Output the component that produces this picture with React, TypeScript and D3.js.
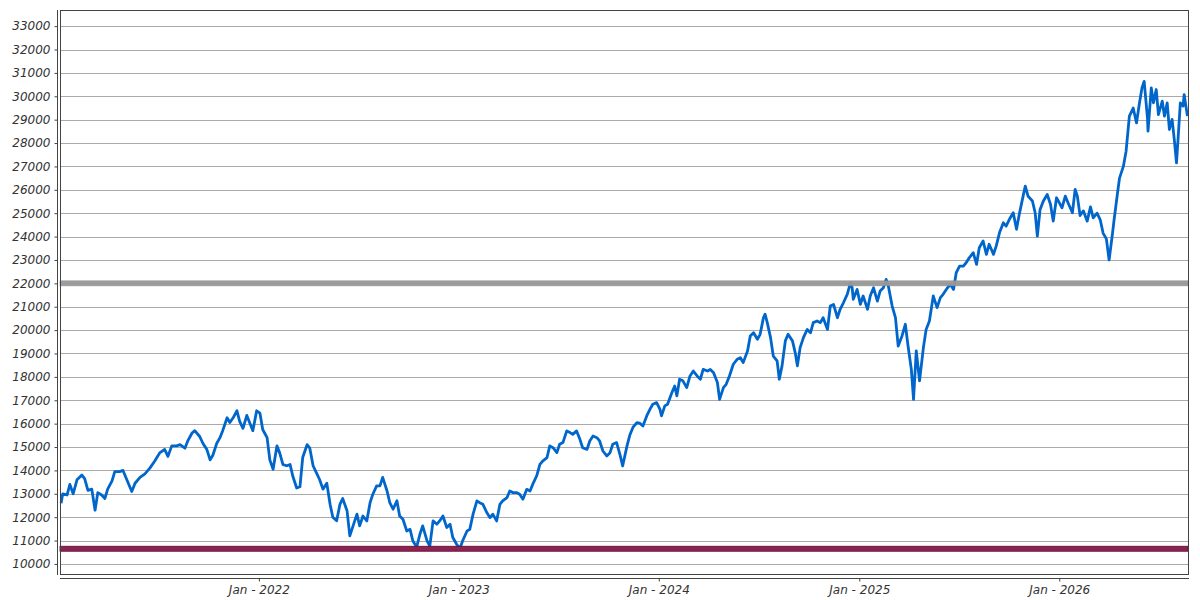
import React, { useEffect, useRef } from 'react'
import * as d3 from 'd3'

const WIDTH = 1200
const HEIGHT = 600
const plot = { left: 60, right: 1188, top: 10, bottom: 574 }

// closing values, one named array per year
const closes2021: [string, number][] = [
  ['2021-01-05', 12600], ['2021-01-08', 13000], ['2021-01-16', 12950], ['2021-01-21', 13400],
  ['2021-01-27', 13000], ['2021-02-03', 13600], ['2021-02-12', 13800], ['2021-02-17', 13650],
  ['2021-02-23', 13150], ['2021-03-02', 13200], ['2021-03-08', 12300], ['2021-03-13', 13050],
  ['2021-03-20', 12950], ['2021-03-26', 12800], ['2021-03-31', 13200], ['2021-04-08', 13550],
  ['2021-04-13', 13950], ['2021-04-22', 13950], ['2021-04-28', 14000], ['2021-05-05', 13600],
  ['2021-05-14', 13100], ['2021-05-20', 13450], ['2021-05-29', 13700], ['2021-06-07', 13850],
  ['2021-06-16', 14100], ['2021-06-25', 14400], ['2021-07-04', 14750], ['2021-07-13', 14900],
  ['2021-07-19', 14600], ['2021-07-26', 15050], ['2021-08-04', 15050], ['2021-08-10', 15100],
  ['2021-08-19', 14950], ['2021-08-24', 15250], ['2021-09-01', 15600], ['2021-09-06', 15700],
  ['2021-09-15', 15450], ['2021-09-21', 15150], ['2021-09-28', 14900], ['2021-10-04', 14450],
  ['2021-10-09', 14650], ['2021-10-16', 15150], ['2021-10-22', 15400], ['2021-10-27', 15700],
  ['2021-11-04', 16250], ['2021-11-09', 16050], ['2021-11-15', 16250], ['2021-11-22', 16550],
  ['2021-11-27', 16100], ['2021-12-03', 15800], ['2021-12-10', 16350], ['2021-12-16', 16000],
  ['2021-12-21', 15700], ['2021-12-28', 16550],
]

const closes2022: [string, number][] = [
  ['2022-01-03', 16450], ['2022-01-08', 15750], ['2022-01-16', 15400], ['2022-01-21', 14450],
  ['2022-01-27', 14050], ['2022-02-03', 15050], ['2022-02-08', 14750], ['2022-02-14', 14250],
  ['2022-02-21', 14200], ['2022-02-27', 14250], ['2022-03-04', 13750], ['2022-03-11', 13250],
  ['2022-03-17', 13300], ['2022-03-22', 14550], ['2022-03-30', 15100], ['2022-04-04', 14950],
  ['2022-04-10', 14200], ['2022-04-17', 13850], ['2022-04-22', 13600], ['2022-04-28', 13200],
  ['2022-05-05', 13450], ['2022-05-11', 12550], ['2022-05-16', 12000], ['2022-05-23', 11850],
  ['2022-05-29', 12550], ['2022-06-03', 12800], ['2022-06-11', 12270], ['2022-06-16', 11200],
  ['2022-06-22', 11630], ['2022-06-29', 12130], ['2022-07-04', 11630], ['2022-07-10', 12050],
  ['2022-07-17', 11840], ['2022-07-23', 12620], ['2022-07-28', 12980], ['2022-08-04', 13340],
  ['2022-08-10', 13340], ['2022-08-15', 13700], ['2022-08-23', 13120], ['2022-08-28', 12620],
  ['2022-09-03', 12340], ['2022-09-10', 12700], ['2022-09-15', 12050], ['2022-09-21', 11910],
  ['2022-09-28', 11410], ['2022-10-04', 11480], ['2022-10-09', 10990], ['2022-10-16', 10720],
  ['2022-10-22', 11270], ['2022-10-27', 11630], ['2022-11-04', 10990], ['2022-11-09', 10760],
  ['2022-11-15', 11840], ['2022-11-22', 11700], ['2022-11-27', 11840], ['2022-12-03', 12050],
  ['2022-12-10', 11560], ['2022-12-16', 11700], ['2022-12-21', 11130], ['2022-12-28', 10840],
]

const closes2023: [string, number][] = [
  ['2023-01-03', 10660], ['2023-01-08', 10990], ['2023-01-16', 11410], ['2023-01-21', 11480],
  ['2023-01-27', 12130], ['2023-02-03', 12700], ['2023-02-08', 12620], ['2023-02-14', 12550],
  ['2023-02-21', 12200], ['2023-02-27', 11980], ['2023-03-04', 12130], ['2023-03-11', 11840],
  ['2023-03-17', 12550], ['2023-03-22', 12700], ['2023-03-30', 12840], ['2023-04-04', 13120],
  ['2023-04-10', 13050], ['2023-04-17', 13050], ['2023-04-22', 12980], ['2023-04-28', 12770],
  ['2023-05-05', 13190], ['2023-05-11', 13120], ['2023-05-16', 13410], ['2023-05-23', 13760],
  ['2023-05-29', 14260], ['2023-06-03', 14400], ['2023-06-11', 14550], ['2023-06-16', 15050],
  ['2023-06-22', 14970], ['2023-06-29', 14760], ['2023-07-04', 15120], ['2023-07-10', 15190],
  ['2023-07-17', 15690], ['2023-07-23', 15620], ['2023-07-28', 15540], ['2023-08-04', 15690],
  ['2023-08-10', 15330], ['2023-08-15', 14970], ['2023-08-23', 14900], ['2023-08-28', 15260],
  ['2023-09-03', 15470], ['2023-09-10', 15400], ['2023-09-15', 15260], ['2023-09-21', 14830],
  ['2023-09-28', 14620], ['2023-10-04', 14760], ['2023-10-09', 15120], ['2023-10-16', 15190],
  ['2023-10-22', 14690], ['2023-10-27', 14190], ['2023-11-04', 15050], ['2023-11-09', 15500],
  ['2023-11-15', 15850], ['2023-11-22', 16040], ['2023-11-27', 16020], ['2023-12-03', 15900],
  ['2023-12-10', 16330], ['2023-12-16', 16620], ['2023-12-21', 16830], ['2023-12-28', 16900],
]

const closes2024: [string, number][] = [
  ['2024-01-03', 16620], ['2024-01-06', 16330], ['2024-01-12', 16760], ['2024-01-17', 16830],
  ['2024-01-25', 17330], ['2024-01-30', 17610], ['2024-02-03', 17190], ['2024-02-08', 17900],
  ['2024-02-14', 17830], ['2024-02-21', 17540], ['2024-02-27', 18040], ['2024-03-04', 18250],
  ['2024-03-11', 18040], ['2024-03-17', 17900], ['2024-03-22', 18320], ['2024-03-30', 18250],
  ['2024-04-04', 18320], ['2024-04-10', 18180], ['2024-04-17', 17760], ['2024-04-21', 17040],
  ['2024-04-28', 17540], ['2024-05-03', 17680], ['2024-05-09', 18040], ['2024-05-16', 18540],
  ['2024-05-23', 18750], ['2024-05-29', 18820], ['2024-06-03', 18610], ['2024-06-11', 19110],
  ['2024-06-16', 19750], ['2024-06-22', 19890], ['2024-06-29', 19610], ['2024-07-04', 19820],
  ['2024-07-10', 20530], ['2024-07-13', 20680], ['2024-07-17', 20320], ['2024-07-23', 19680],
  ['2024-07-28', 18890], ['2024-08-04', 18680], ['2024-08-08', 17900], ['2024-08-13', 18470],
  ['2024-08-19', 19540], ['2024-08-24', 19820], ['2024-09-01', 19540], ['2024-09-06', 19040],
  ['2024-09-10', 18470], ['2024-09-15', 19250], ['2024-09-21', 19680], ['2024-09-28', 20030],
  ['2024-10-04', 19890], ['2024-10-09', 20320], ['2024-10-16', 20390], ['2024-10-22', 20320],
  ['2024-10-27', 20530], ['2024-11-04', 20030], ['2024-11-09', 21030], ['2024-11-15', 21100],
  ['2024-11-22', 20530], ['2024-11-27', 20890], ['2024-12-03', 21170], ['2024-12-10', 21530],
  ['2024-12-16', 22030], ['2024-12-19', 21810], ['2024-12-21', 21320], ['2024-12-28', 21740],
]

const closes2025: [string, number][] = [
  ['2025-01-03', 21100], ['2025-01-08', 21460], ['2025-01-16', 20890], ['2025-01-21', 21460],
  ['2025-01-27', 21810], ['2025-02-03', 21240], ['2025-02-08', 21670], ['2025-02-14', 21810],
  ['2025-02-19', 22170], ['2025-02-23', 21890], ['2025-03-02', 21030], ['2025-03-08', 20530],
  ['2025-03-13', 19320], ['2025-03-20', 19750], ['2025-03-26', 20250], ['2025-03-31', 19320],
  ['2025-04-06', 18320], ['2025-04-10', 17040], ['2025-04-15', 19110], ['2025-04-21', 17830],
  ['2025-04-28', 19250], ['2025-05-03', 20030], ['2025-05-09', 20390], ['2025-05-16', 21460],
  ['2025-05-23', 20960], ['2025-05-29', 21390], ['2025-06-03', 21530], ['2025-06-11', 21810],
  ['2025-06-16', 21960], ['2025-06-22', 21740], ['2025-06-27', 22460], ['2025-07-03', 22740],
  ['2025-07-10', 22740], ['2025-07-15', 22880], ['2025-07-21', 23100], ['2025-07-28', 23310],
  ['2025-08-03', 22810], ['2025-08-08', 23520], ['2025-08-15', 23810], ['2025-08-21', 23240],
  ['2025-08-26', 23670], ['2025-09-03', 23240], ['2025-09-08', 23600], ['2025-09-14', 24170],
  ['2025-09-21', 24590], ['2025-09-26', 24450], ['2025-10-02', 24740], ['2025-10-09', 25020],
  ['2025-10-15', 24310], ['2025-10-20', 24950], ['2025-10-27', 25730], ['2025-10-31', 26160],
  ['2025-11-05', 25730], ['2025-11-13', 25520], ['2025-11-18', 25020], ['2025-11-22', 24020],
  ['2025-11-27', 25160], ['2025-12-03', 25520], ['2025-12-10', 25800], ['2025-12-16', 25380],
  ['2025-12-21', 24660], ['2025-12-27', 25660],
]

const closes2026: [string, number][] = [
  ['2026-01-01', 25450], ['2026-01-06', 25230], ['2026-01-12', 25730], ['2026-01-17', 25450],
  ['2026-01-25', 25020], ['2026-01-30', 26020], ['2026-02-03', 25730], ['2026-02-08', 24900],
  ['2026-02-14', 25100], ['2026-02-21', 24660], ['2026-02-27', 25270], ['2026-03-04', 24800],
  ['2026-03-11', 25000], ['2026-03-17', 24700], ['2026-03-22', 24150], ['2026-03-28', 23900],
  ['2026-04-02', 23000], ['2026-04-08', 24100], ['2026-04-11', 24700], ['2026-04-17', 25800],
  ['2026-04-21', 26500], ['2026-04-28', 27000], ['2026-05-03', 27650], ['2026-05-09', 29150],
  ['2026-05-16', 29500], ['2026-05-22', 28860], ['2026-05-27', 29650], ['2026-06-01', 30360],
  ['2026-06-05', 30640], ['2026-06-11', 29080], ['2026-06-12', 28510], ['2026-06-18', 30360],
  ['2026-06-22', 29720], ['2026-06-27', 30290], ['2026-07-01', 29220], ['2026-07-08', 29790],
  ['2026-07-12', 29150], ['2026-07-17', 29720], ['2026-07-21', 28580], ['2026-07-26', 29010],
  ['2026-07-30', 28150], ['2026-08-03', 27150], ['2026-08-06', 28220], ['2026-08-10', 29720],
  ['2026-08-15', 29580], ['2026-08-17', 30070], ['2026-08-23', 29150],
]

const yTicks = [
  10000, 11000, 12000, 13000, 14000, 15000, 16000, 17000, 18000, 19000, 20000, 21000,
  22000, 23000, 24000, 25000, 26000, 27000, 28000, 29000, 30000, 31000, 32000, 33000,
]
const xTicks = ['2022-01-01', '2023-01-01', '2024-01-01', '2025-01-01', '2026-01-01']
const xDomain = ['2021-01-03', '2026-08-24']
const yDomain = [9570, 33690]

const resistanceLevel = 22000
const supportLevel = 10650

export default function App() {
  const ref = useRef<SVGSVGElement | null>(null)

  useEffect(() => {
    const svg = d3.select(ref.current!)
    svg.selectAll('*').remove()

    const parse = d3.timeParse('%Y-%m-%d')
    const data = [closes2021, closes2022, closes2023, closes2024, closes2025, closes2026]
      .flat()
      .map(([d, v]) => ({ date: parse(d)!, value: v }))

    const x = d3.scaleTime()
      .domain(xDomain.map(d => parse(d)!))
      .range([plot.left, plot.right])
    const y = d3.scaleLinear().domain(yDomain).range([plot.bottom, plot.top])

    svg.append('rect')
      .attr('width', WIDTH).attr('height', HEIGHT).attr('fill', '#fff')

    // horizontal grid
    svg.append('g')
      .selectAll('line')
      .data(yTicks)
      .join('line')
      .attr('x1', plot.left).attr('x2', plot.right)
      .attr('y1', d => Math.round(y(d)) + 0.5).attr('y2', d => Math.round(y(d)) + 0.5)
      .attr('stroke', '#aaaaaa')
      .attr('stroke-width', 1)

    const line = d3.line<{ date: Date; value: number }>()
      .x(d => x(d.date))
      .y(d => y(d.value))

    svg.append('path')
      .datum(data)
      .attr('d', line)
      .attr('fill', 'none')
      .attr('stroke', '#0066cc')
      .attr('stroke-width', 2.8)
      .attr('stroke-linejoin', 'round')

    // level bands
    svg.append('rect')
      .attr('x', plot.left).attr('width', plot.right - plot.left)
      .attr('y', y(resistanceLevel) - 2.5).attr('height', 5)
      .attr('fill', '#999999').attr('stroke', '#8a8a8a').attr('stroke-width', 0.6)
      .attr('opacity', 0.95)
    svg.append('rect')
      .attr('x', plot.left).attr('width', plot.right - plot.left)
      .attr('y', y(supportLevel) - 2.5).attr('height', 5)
      .attr('fill', '#8e2352').attr('stroke', '#5c0c30').attr('stroke-width', 0.8)

    // plot frame
    svg.append('rect')
      .attr('x', plot.left + 0.5).attr('y', plot.top + 0.5)
      .attr('width', plot.right - plot.left).attr('height', plot.bottom - plot.top)
      .attr('fill', 'none').attr('stroke', '#444').attr('stroke-width', 1)

    const font = 'DejaVu Sans, sans-serif'

    const yAxis = svg.append('g')
      .attr('transform', `translate(57.5,0)`)
      .call(d3.axisLeft(y).tickValues(yTicks).tickSize(3).tickPadding(4)
        .tickFormat(d => String(d)).tickSizeOuter(0))
    yAxis.select('.domain').attr('stroke', '#444')
      .attr('d', `M0,${plot.top}V${plot.bottom + 1}`)
    yAxis.selectAll('.tick line').attr('stroke', '#444')
    yAxis.selectAll('text')
      .attr('fill', '#333').style('font-family', font)
      .style('font-size', '12px').style('font-style', 'italic')

    const xAxis = svg.append('g')
      .attr('transform', `translate(0,578.5)`)
      .call(d3.axisBottom(x).tickValues(xTicks.map(d => parse(d)!)).tickSize(3).tickPadding(4)
        .tickFormat(d => 'Jan - ' + d3.timeFormat('%Y')(d as Date)).tickSizeOuter(0))
    xAxis.select('.domain').attr('stroke', '#444')
      .attr('d', `M${plot.left},0H${plot.right + 1}`)
    xAxis.selectAll('.tick line').attr('stroke', '#444')
    xAxis.selectAll('text')
      .attr('fill', '#333').style('font-family', font)
      .style('font-size', '12px').style('font-style', 'italic')
  }, [])

  return (
    <svg
      ref={ref}
      width={WIDTH}
      height={HEIGHT}
      style={{ position: 'absolute', left: 0, top: 0, display: 'block' }}
    />
  )
}
